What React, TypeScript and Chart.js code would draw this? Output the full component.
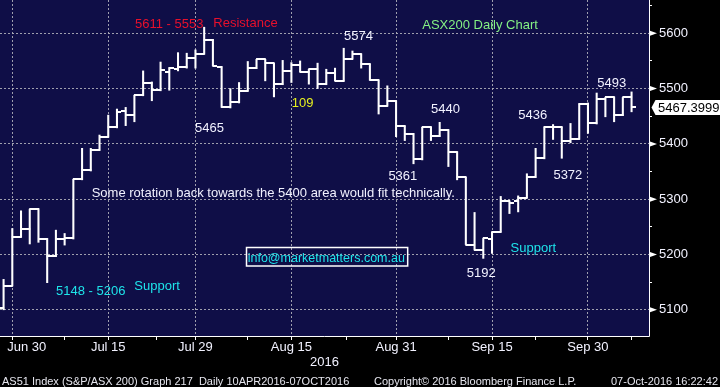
import React, { useEffect, useRef } from 'react';
import { Chart, registerables } from 'chart.js';

Chart.register(...registerables);

// ---- data (trading days shown on the chart) ----
const dates = ['Jun 29','Jun 30','Jul 1','Jul 4','Jul 5','Jul 6','Jul 7','Jul 8','Jul 11','Jul 12','Jul 13','Jul 14','Jul 15','Jul 18','Jul 19','Jul 20','Jul 21','Jul 22','Jul 25','Jul 26','Jul 27','Jul 28','Jul 29','Aug 1','Aug 2','Aug 3','Aug 4','Aug 5','Aug 8','Aug 9','Aug 10','Aug 11','Aug 12','Aug 15','Aug 16','Aug 17','Aug 18','Aug 19','Aug 22','Aug 23','Aug 24','Aug 25','Aug 26','Aug 29','Aug 30','Aug 31','Sep 1','Sep 2','Sep 5','Sep 6','Sep 7','Sep 8','Sep 9','Sep 12','Sep 13','Sep 14','Sep 15','Sep 16','Sep 19','Sep 20','Sep 21','Sep 22','Sep 23','Sep 26','Sep 27','Sep 28','Sep 29','Sep 30','Oct 3','Oct 4','Oct 5','Oct 6','Oct 7'];

const opens = [5103,5143,5232,5246,5282,5228,5197,5228,5229,5336,
  5352,5389,5413,5430,5460,5452,5488,5511,5497,5530,
  5536,5539,5556,5563,5588,5539,5466,5475,5496,5537,
  5553,5546,5508,5531,5542,5530,5535,5508,5528,5514,
  5553,5562,5544,5515,5468,5478,5432,5417,5372,5430,
  5414,5425,5385,5340,5218,5208,5228,5241,5297,5297,
  5303,5340,5374,5430,5430,5405,5409,5473,5437,5481,
  5484,5452,5484];

const highs = [5155,5247,5279,5282,5283,5229,5244,5238,5336,5392,
  5392,5416,5452,5463,5466,5488,5532,5512,5548,5538,
  5565,5564,5570,5611,5589,5540,5500,5511,5549,5553,
  5553,5546,5551,5547,5550,5535,5546,5535,5537,5573,
  5568,5563,5545,5516,5505,5478,5433,5419,5430,5431,
  5439,5426,5386,5340,5276,5229,5241,5305,5297,5306,
  5346,5392,5431,5435,5431,5437,5473,5474,5492,5484,
  5485,5484,5494];

const lows = [5100,5143,5231,5219,5222,5149,5196,5217,5228,5335,
  5351,5388,5412,5429,5433,5440,5487,5478,5496,5497,
  5532,5537,5537,5562,5541,5466,5465,5474,5495,5536,
  5514,5485,5507,5511,5530,5508,5500,5507,5514,5513,
  5553,5537,5515,5454,5468,5413,5406,5364,5371,5406,
  5413,5359,5335,5218,5208,5193,5202,5240,5274,5277,
  5302,5339,5373,5408,5374,5402,5408,5419,5436,5449,
  5440,5451,5458];

const closes = [5143,5232,5246,5282,5228,5197,5228,5229,5336,5352,
  5389,5413,5430,5457,5452,5488,5511,5497,5533,5537,
  5539,5556,5563,5588,5541,5466,5475,5496,5537,5553,
  5546,5508,5531,5542,5530,5535,5508,5528,5514,5553,
  5562,5544,5515,5468,5478,5432,5417,5372,5430,5414,
  5425,5385,5340,5218,5208,5229,5241,5297,5294,5303,
  5340,5374,5430,5430,5405,5409,5473,5437,5481,5484,
  5452,5484,5467.4];

const majorTickDates = ['Jun 30','Jul 15','Jul 29','Aug 15','Aug 31','Sep 15','Sep 30'];
const minorTickPositions = [7, 17.5, 28, 39.3, 51, 61, 72];
const yTickValues = [5100,5150,5200,5250,5300,5350,5400,5450,5500,5550,5600,5650];
const lastPrice = 5467.3999;
const lastPriceLabel = '5467.3999';
const xAxisTitle = '2016';
const footerLeft = 'AS51 Index (S&P/ASX 200) Graph 217  Daily 10APR2016-07OCT2016';
const footerMid = 'Copyright\u00A9 2016 Bloomberg Finance L.P.';
const footerRight = '07-Oct-2016 16:22:42';

// ---- styles ----
const FONT = "'Liberation Sans', Arial, sans-serif";
const NAVY = '#0f0e47';
const GRID = 'rgba(175,175,185,0.9)';
const WHITE = '#f2f2ff';
const RED = '#e8102c';
const GREEN = '#84f184';
const YELLOW = '#e6f01e';
const CYAN = '#1ee4ea';

// annotations anchored in data space (index, value); y = text baseline
const notes = [
  { text: '5611 - 5553', x: 15.07, y: 5610, color: RED },
  { text: 'Resistance', x: 24.05, y: 5612, color: RED },
  { text: 'ASX200 Daily Chart', x: 48.0, y: 5608, color: GREEN },
  { text: '5574', x: 39.04, y: 5588, color: WHITE },
  { text: '109', x: 33.04, y: 5467, color: YELLOW },
  { text: '5465', x: 21.95, y: 5421, color: WHITE },
  { text: '5440', x: 49.01, y: 5455, color: WHITE },
  { text: '5361', x: 44.12, y: 5335, color: WHITE },
  { text: 'Some rotation back towards the 5400 area would fit technically.', x: 10.1, y: 5304, color: WHITE },
  { text: 'info@marketmatters.com.au', x: 27.99, y: 5186.4, color: CYAN, boxed: true },
  { text: '5148 - 5206', x: 6.01, y: 5127, color: CYAN },
  { text: 'Support', x: 14.99, y: 5135, color: CYAN },
  { text: 'Support', x: 58.13, y: 5204.5, color: CYAN },
  { text: '5192', x: 53.11, y: 5159, color: WHITE },
  { text: '5436', x: 59.02, y: 5444.5, color: WHITE },
  { text: '5372', x: 63.04, y: 5336, color: WHITE },
  { text: '5493', x: 68.08, y: 5502, color: WHITE },
];

const majorIdx = majorTickDates.map((d) => dates.indexOf(d));
const xTickValues = [...majorIdx, ...minorTickPositions].sort((a, b) => a - b);

const noPad = (s: any) => {
  s.paddingLeft = 0;
  s.paddingRight = 0;
  s.paddingTop = 0;
  s.paddingBottom = 0;
};

export default function App() {
  const ref = useRef<HTMLCanvasElement>(null);

  useEffect(() => {
    document.body.style.margin = '0';
    document.body.style.background = '#000';
    const canvas = ref.current;
    if (!canvas) return;

    const mkTick = (left: boolean) => {
      const c = document.createElement('canvas');
      c.width = 9;
      c.height = 2;
      const g = c.getContext('2d')!;
      g.fillStyle = '#ffffff';
      if (left) g.fillRect(0, 0, 5, 2);
      else g.fillRect(4, 0, 5, 2);
      return c;
    };
    const openImg = mkTick(true);
    const closeImg = mkTick(false);

    const bgPlugin = {
      id: 'bg',
      beforeDraw(chart: any) {
        const { ctx, chartArea: a, width, height } = chart;
        ctx.save();
        ctx.fillStyle = '#000';
        ctx.fillRect(0, 0, width, height);
        ctx.fillStyle = NAVY;
        ctx.fillRect(a.left, a.top, a.right - a.left, a.bottom - a.top);
        ctx.restore();
      },
    };

    const overlayPlugin = {
      id: 'overlay',
      afterDatasetsDraw(chart: any) {
        const { ctx } = chart;
        const xs = chart.scales.x;
        const ys = chart.scales.y;
        ctx.save();
        ctx.textBaseline = 'alphabetic';
        ctx.textAlign = 'left';
        for (const n of notes) {
          const px = xs.getPixelForValue(n.x);
          const py = ys.getPixelForValue(n.y);
          const boxed = (n as any).boxed;
          ctx.font = boxed ? `12.5px ${FONT}` : `13px ${FONT}`;
          if (boxed) {
            const w = ctx.measureText(n.text).width;
            ctx.strokeStyle = '#ffffff';
            ctx.lineWidth = 1.5;
            ctx.strokeRect(Math.round(px) - 1.5, Math.round(py) - 14.5, w + 4, 18.5);
          }
          ctx.fillStyle = n.color;
          ctx.fillText(n.text, px, py);
        }
        ctx.restore();
      },
      afterDraw(chart: any) {
        const { ctx, chartArea: a, width } = chart;
        const ys = chart.scales.y;
        ctx.save();
        // frame
        ctx.strokeStyle = '#ffffff';
        ctx.lineWidth = 1;
        ctx.beginPath();
        ctx.moveTo(a.right + 0.5, 0);
        ctx.lineTo(a.right + 0.5, a.bottom + 0.5);
        ctx.lineTo(a.left, a.bottom + 0.5);
        ctx.stroke();
        // major tick markers on the value axis
        ctx.fillStyle = '#ffffff';
        for (const v of yTickValues) {
          if (v % 100 !== 0) continue;
          const y = ys.getPixelForValue(v);
          ctx.beginPath();
          ctx.moveTo(a.right + 1, y - 2.5);
          ctx.lineTo(a.right + 8, y);
          ctx.lineTo(a.right + 1, y + 2.5);
          ctx.closePath();
          ctx.fill();
        }
        // last price box
        const py = Math.round(ys.getPixelForValue(lastPrice)) + 0.5;
        ctx.beginPath();
        ctx.moveTo(a.right + 2.5, py);
        ctx.lineTo(a.right + 6.5, py - 7.5);
        ctx.lineTo(width, py - 7.5);
        ctx.lineTo(width, py + 7.5);
        ctx.lineTo(a.right + 6.5, py + 7.5);
        ctx.closePath();
        ctx.fill();
        ctx.fillStyle = '#000000';
        ctx.font = `13px ${FONT}`;
        ctx.textBaseline = 'middle';
        ctx.textAlign = 'left';
        ctx.fillText(lastPriceLabel, a.right + 9, py + 0.5);
        // footer
        ctx.fillStyle = '#e6e6ee';
        ctx.font = `11px ${FONT}`;
        ctx.textBaseline = 'alphabetic';
        ctx.fillText(footerLeft, 2, 385);
        ctx.fillText(footerMid, 374, 385);
        ctx.textAlign = 'right';
        ctx.fillText(footerRight, width - 2, 385);
        ctx.restore();
      },
    };

    const chart = new Chart(canvas, {
      type: 'bar',
      data: {
        datasets: [
          {
            type: 'bar',
            data: dates.map((_, i) => ({ x: i, y: [lows[i], highs[i]] })) as any,
            backgroundColor: '#ffffff',
            borderWidth: 0,
            barThickness: 1.4,
            grouped: false,
          } as any,
          {
            type: 'line',
            data: dates.map((_, i) => ({ x: i, y: opens[i] })) as any,
            showLine: false,
            borderWidth: 0,
            pointStyle: openImg as any,
            pointRadius: 0.5,
            pointHoverRadius: 0.5,
            pointBorderWidth: 0,
          } as any,
          {
            type: 'line',
            data: dates.map((_, i) => ({ x: i, y: closes[i] })) as any,
            showLine: false,
            borderWidth: 0,
            pointStyle: closeImg as any,
            pointRadius: 0.5,
            pointHoverRadius: 0.5,
            pointBorderWidth: 0,
          } as any,
        ],
      },
      options: {
        responsive: false,
        devicePixelRatio: 1,
        animation: false,
        events: [],
        layout: { padding: 0, autoPadding: false },
        plugins: { legend: { display: false }, tooltip: { enabled: false } },
        scales: {
          x: {
            type: 'linear',
            position: 'bottom',
            offset: false,
            min: -0.41,
            max: 74.0,
            afterBuildTicks: (s: any) => {
              s.ticks = xTickValues.map((v) => ({ value: v }));
            },
            afterFit: (s: any) => {
              s.height = 51;
              noPad(s);
            },
            grid: {
              offset: false,
              color: (c: any) => (c.tick && majorIdx.includes(c.tick.value) ? GRID : 'rgba(0,0,0,0)'),
              tickColor: '#ffffff',
              tickLength: 4,
              lineWidth: 1,
            },
            border: { display: false, dash: [2, 2] },
            ticks: {
              autoSkip: false,
              maxRotation: 0,
              padding: 0,
              color: WHITE,
              font: { family: FONT, size: 13 },
              callback: (v: any) => {
                const k = majorIdx.indexOf(Number(v));
                if (k < 0) return '';
                // first label is nudged right so it stays inside the canvas
                return k === 0 ? '\u00A0'.repeat(8) + majorTickDates[k] : majorTickDates[k];
              },
            },
            title: {
              display: true,
              text: xAxisTitle,
              color: WHITE,
              font: { family: FONT, size: 13 },
              padding: { top: 0, bottom: 17 },
            },
          } as any,
          y: {
            type: 'linear',
            position: 'right',
            min: 5052.6,
            max: 5660.2,
            afterBuildTicks: (s: any) => {
              s.ticks = yTickValues.map((v) => ({ value: v }));
            },
            afterFit: (s: any) => {
              s.width = 71;
              noPad(s);
            },
            grid: {
              color: (c: any) => (c.tick && c.tick.value % 100 === 0 ? GRID : 'rgba(0,0,0,0)'),
              tickColor: '#ffffff',
              tickLength: 3,
              lineWidth: 1,
            },
            border: { display: false, dash: [2, 2] },
            ticks: {
              padding: 7,
              color: WHITE,
              font: { family: FONT, size: 13 },
              callback: (v: any) => (Number(v) % 100 === 0 ? String(v) : ''),
            },
          } as any,
        },
      },
      plugins: [bgPlugin, overlayPlugin],
    } as any);

    return () => chart.destroy();
  }, []);

  return (
    <div style={{ width: 720, height: 387, background: '#000' }}>
      <canvas ref={ref} width={720} height={387} style={{ display: 'block' }} />
    </div>
  );
}
